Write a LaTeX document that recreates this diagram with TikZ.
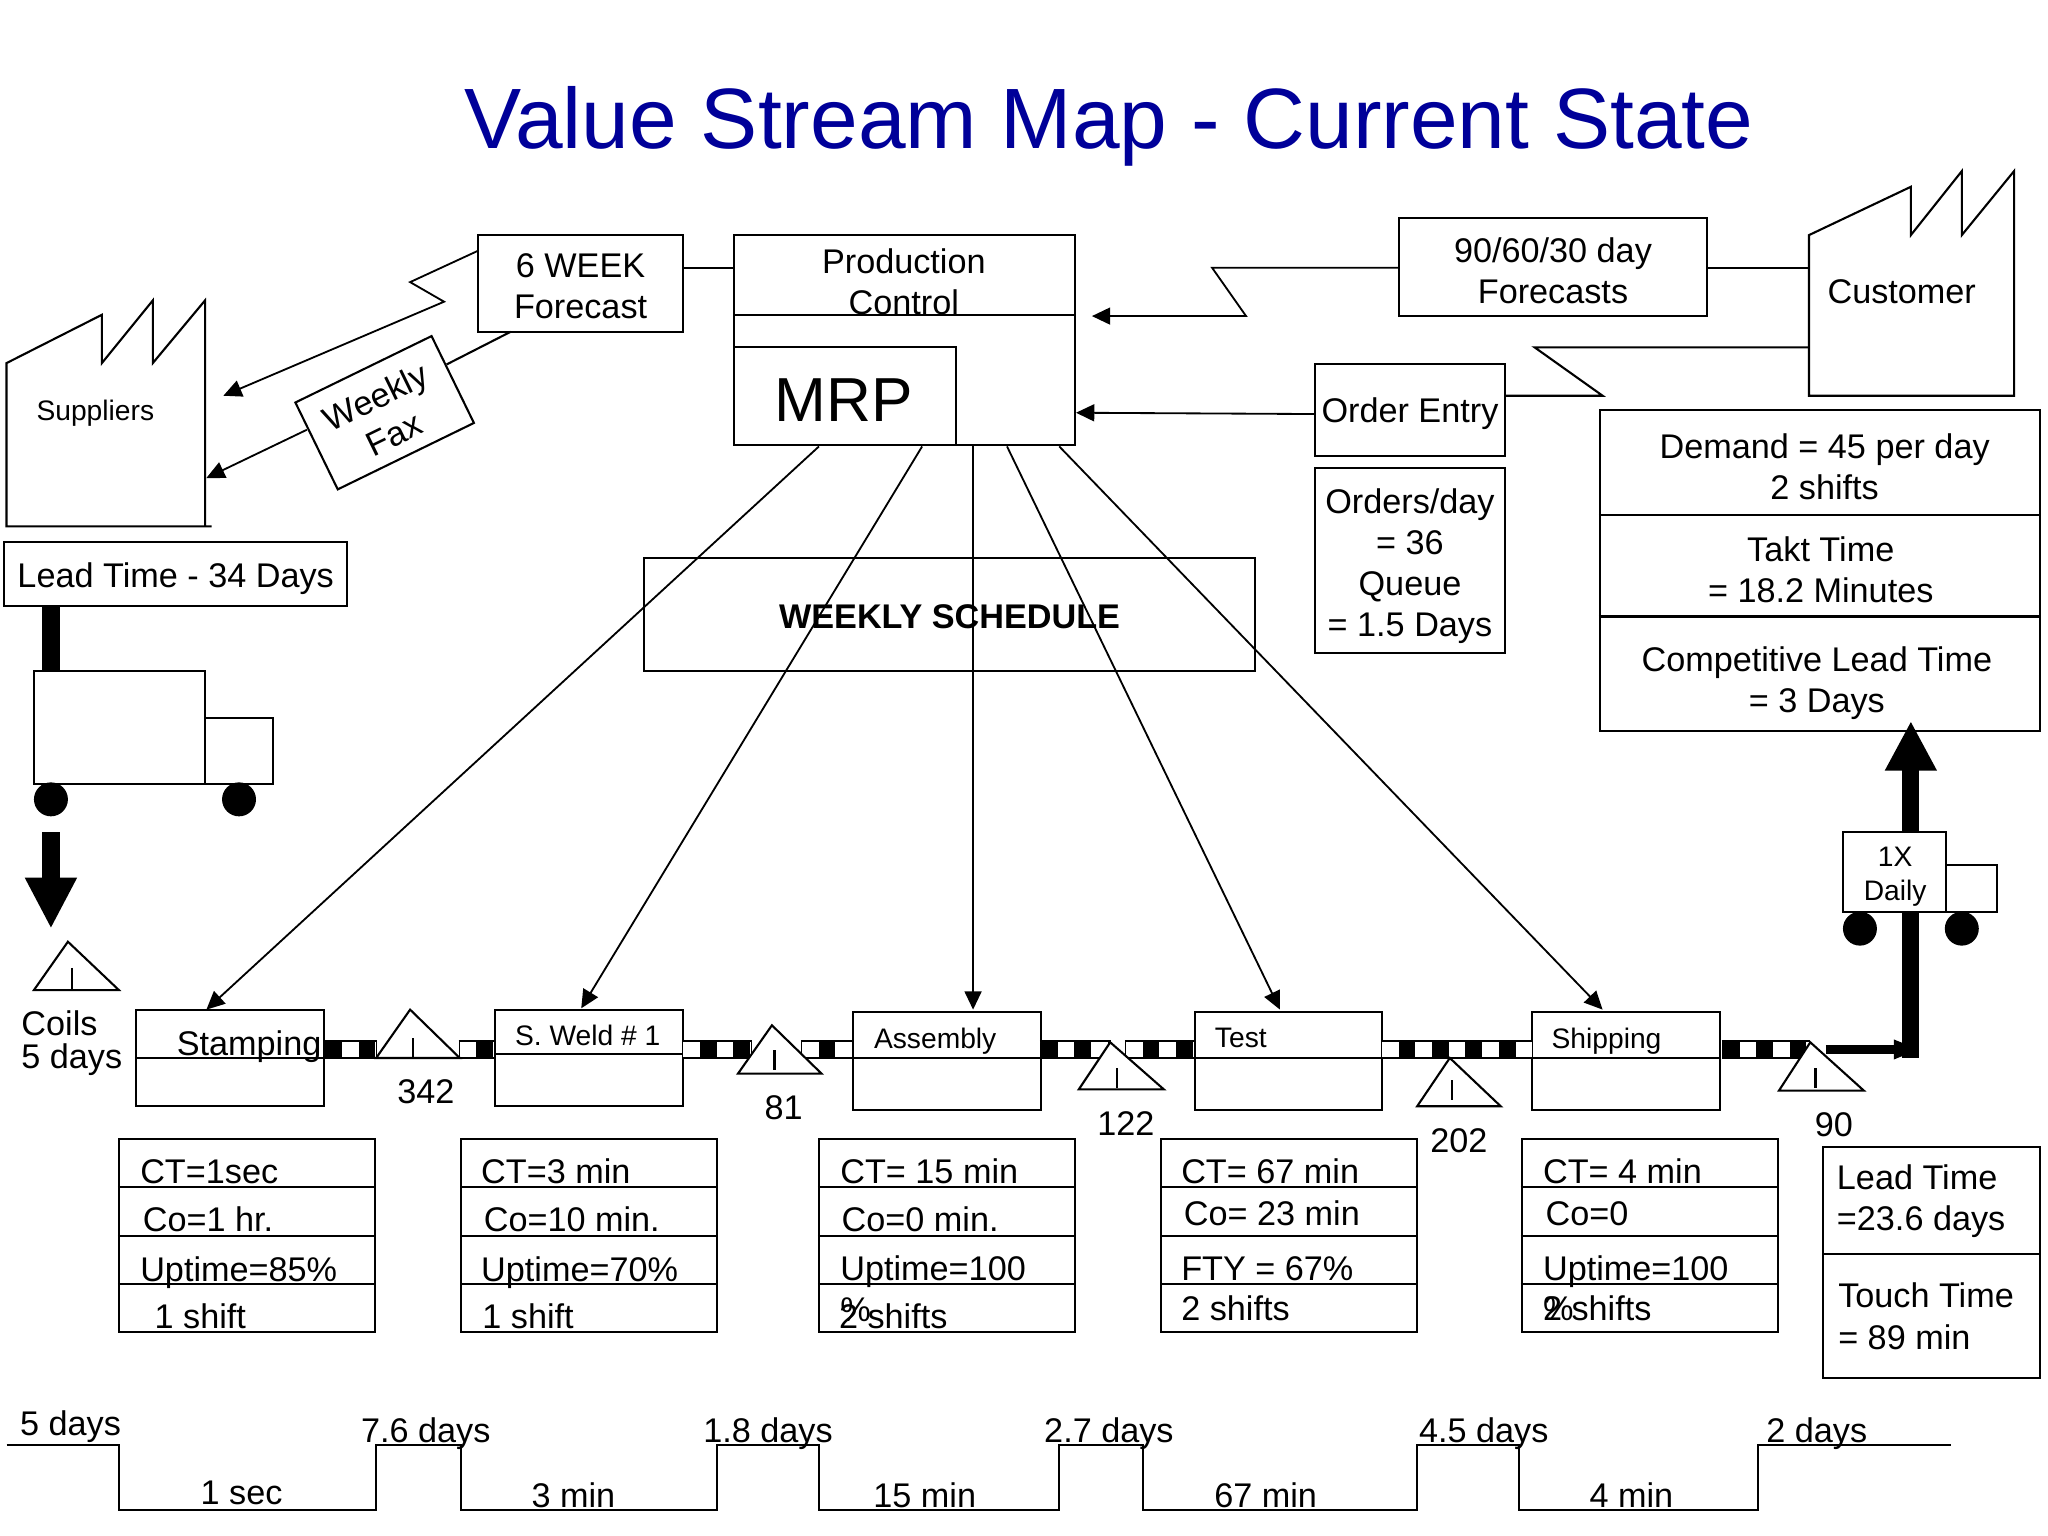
\documentclass[tikz,border=0pt]{standalone}
\usepackage{fontspec}
\setmainfont{Liberation Sans}
\usetikzlibrary{arrows.meta,shapes.geometric}
\definecolor{titleblue}{RGB}{0,0,153}

\tikzset{
  x=.5pt,y=-.5pt,
  every node/.style={font=\fontsize{13.1}{15.7}\selectfont,inner sep=0pt,align=center},
  box/.style={rectangle,draw,line width=.8pt,fill=white},
  clearbox/.style={rectangle,draw,line width=.8pt},
  rule/.style={line width=.8pt},
  small/.style={font=\fontsize{10.8}{13}\selectfont},
  row/.style={anchor=base west},
  info/.style={line width=.7pt,-{Triangle[length=7pt,width=6.5pt]}},
  ship/.style={line width=7pt},
  wheel/.style={circle,fill=black,minimum size=13pt},
  stock/.style={draw,line width=.8pt,fill=white,line join=miter},
  pushline/.style={line width=6.5pt,dash pattern=on 6.4pt off 6.4pt,
    preaction={draw=black,solid,line width=7.3pt,shorten <=-.4pt,shorten >=-.4pt},
    preaction={draw=white,solid,line width=5.7pt}},
  whitefirst/.style={dash phase=6.4pt}
}

\begin{document}
\begin{tikzpicture}
\useasboundingbox (0,0) rectangle (1568,1176);

\node[font=\fontsize{32.8}{38}\selectfont,text=titleblue] (title) at (849,97)
  {Value Stream Map - Current State};

% supplier side
\draw[rule] (5,278) -- (78,241) -- (78,278) -- (117,230) -- (117,278) -- (157,230)
  -- (157,403) -- (5,403) -- cycle (157,403) -- (162,403);
\node[small] (suppliers) at (73,316) {Suppliers};
\coordinate (supTop) at (171,303);
\coordinate (supLow) at (158,366);

\node[box,minimum width=78.5pt,minimum height=37pt] (sixweek) at (444.5,217) {};
\node (sixweektxt) at (444.5,219) {6 WEEK\\Forecast};
\node[box,rotate=26,minimum width=58pt,minimum height=37pt] (fax) at (294.5,316) {};
\node[rotate=26] (faxtxt) at (294.5,318) {Weekly\\Fax};
\node[box,minimum width=131.5pt,minimum height=24.5pt] (leadbox) at (134.5,439.5) {};
\node (leadtxt) at (134.5,443) {Lead Time - 34 Days};

\coordinate (faxA) at (391,254);
\coordinate (faxB) at (342,279);
\coordinate (faxC) at (235,329);
\draw[info] (366,192) -- (314,216) -- (340,231) -- (supTop);
\draw[rule] (faxA) -- (faxB);
\draw[info] (faxC) -- (supLow);

% production control
\node[clearbox,minimum width=130.5pt,minimum height=80.5pt] (control) at (692.5,260.5) {};
\node (controltxt) at (692,216) {Production\\Control};
\draw[rule] (562,241) -- (823,241);
\node[box,minimum width=85pt,minimum height=37.5pt] (mrp) at (647,303.5) {};
\node[font=\fontsize{23.8}{28}\selectfont] (mrptxt) at (646,306) {MRP};
\draw[rule] (sixweek.east |- 0,205) -- (control.west |- 0,205);

% customer side
\draw[rule] (1385,180) -- (1463,143) -- (1463,180) -- (1502,131) -- (1502,180)
  -- (1542,131) -- (1542,303) -- (1385,303) -- cycle;
\node (customer) at (1456,223) {Customer};
\node[box,minimum width=118pt,minimum height=37.5pt] (forecast) at (1189,204.5) {};
\node (forecasttxt) at (1189,207) {90/60/30 day\\Forecasts};
\node[box,minimum width=72.5pt,minimum height=35pt] (order) at (1079.5,314) {};
\node (ordertxt) at (1079.5,317) {Order Entry};
\node[box,minimum width=72.5pt,minimum height=71pt] (orders) at (1079.5,429) {};
\node (orderstxt) at (1079.5,433.5) {Orders/day\\= 36\\Queue\\= 1.5 Days};
\coordinate (custA) at (1385,205);
\coordinate (custB) at (1385,266);
\draw[rule] (forecast.east |- custA) -- (custA);
\draw[info] (forecast.west |- custA) -- (928,205) -- (954,242) -- (836,242);
\draw[info] (order.west |- 0,317) -- (control.east |- 0,316);
\draw[rule] (custB) -- (1175,266) -- (1227,303) -- (order.east |- 0,303);

% takt box
\node[clearbox,minimum width=168.5pt,minimum height=123pt] (takt) at (1393.5,437) {};
\draw[rule] (takt.west |- 0,394) -- (takt.east |- 0,394);
\draw[rule] (takt.west |- 0,472) -- (takt.east |- 0,472);
\node (demand) at (1397,357) {Demand = 45 per day\\2 shifts};
\node (takttime) at (1394,436) {Takt Time\\= 18.2 Minutes};
\node (complead) at (1391,523) {Competitive Lead Time\\= 3 Days};

\node[clearbox,minimum width=234pt,minimum height=43.5pt] (schedule) at (727,470.5) {};
\node[font=\bfseries\fontsize{13.1}{15.7}\selectfont] (scheduletxt) at (727,472) {WEEKLY SCHEDULE};

% incoming truck
\draw[ship] (leadbox.south -| 39,0) -- (39,514);
\node[box,minimum width=65.5pt,minimum height=43pt] (truck) at (91.5,557) {};
\node[box,minimum width=26pt,minimum height=25pt] (cab) at (183,575) {};
\node[wheel] (wheelA) at (39,612) {};
\node[wheel] (wheelB) at (183,612) {};
\coordinate (coilA) at (39,637);
\coordinate (coilB) at (39,711);
\draw[ship,-{Triangle[length=19.5pt,width=18.5pt]}] (coilA) -- (coilB);
\draw[stock] (26,758) -- (52,721) -- (91,758) -- cycle;
\draw[rule] (55,741) -- (55,758);
\node[anchor=west,align=left,font=\fontsize{13.1}{12.6}\selectfont] (coils) at (16,799) {Coils\\5 days};

% process boxes
\node[box,minimum width=72pt,minimum height=37pt] (stamp) at (176,810) {};
\node[box,minimum width=72pt,minimum height=37pt] (weld) at (451,810) {};
\node[box,minimum width=72pt,minimum height=37.5pt] (assembly) at (725,812.5) {};
\node[box,minimum width=71.5pt,minimum height=37.5pt] (test) at (986.5,812.5) {};
\node[box,minimum width=72pt,minimum height=37.5pt] (shipping) at (1245,812.5) {};
\draw[rule] (stamp.west) -- (stamp.east);
\draw[rule] (weld.west |- 0,807) -- (weld.east |- 0,807);
\draw[rule] (assembly.west |- 0,810) -- (assembly.east |- 0,810);
\draw[rule] (test.west |- 0,810) -- (test.east |- 0,810);
\draw[rule] (shipping.west |- 0,810) -- (shipping.east |- 0,810);
\node[anchor=west] (stamptxt) at (135,801) {Stamping};
\node[small] (weldtxt) at (450,793) {S. Weld \# 1};
\node[small] (assemblytxt) at (716,797) {Assembly};
\node[small] (testtxt) at (950,795) {Test};
\node[small] (shippingtxt) at (1230,797) {Shipping};

% schedule arrows
\draw[info] (control.south -| 627,0) -- (158,773);
\draw[info] (control.south -| 706,0) -- (445,772);
\draw[info] (control.south -| 745,0) -- (745,773);
\draw[info] (control.south -| 771,0) -- (980,773);
\draw[info] (control.south -| 811,0) -- (1227,773);

% push arrows
\coordinate (barAa) at (249,803.5);
\coordinate (barAb) at (288,803.5);
\coordinate (barBa) at (352,803.5);
\coordinate (barBb) at (378,803.5);
\coordinate (barCa) at (523,803.5);
\coordinate (barCb) at (575,803.5);
\coordinate (barDa) at (614,803.5);
\coordinate (barDb) at (653,803.5);
\coordinate (barEa) at (797,803.5);
\coordinate (barEb) at (850,803.5);
\coordinate (barFa) at (862,803.5);
\coordinate (barFb) at (914,803.5);
\coordinate (barGa) at (1058,803.5);
\coordinate (barGb) at (1173,803.5);
\coordinate (barHa) at (1319,803.5);
\coordinate (barHb) at (1385,803.5);
\draw[pushline] (barAa) -- (barAb);
\draw[pushline,whitefirst] (barBa) -- (barBb);
\draw[pushline,whitefirst] (barCa) -- (barCb);
\draw[pushline,whitefirst] (barDa) -- (barDb);
\draw[pushline] (barEa) -- (barEb);
\draw[pushline,whitefirst] (barFa) -- (barFb);
\draw[pushline,whitefirst] (barGa) -- (barGb);
\draw[pushline] (barHa) -- (barHb);

% inventory triangles
\draw[stock] (288,810) -- (314,773) -- (352,810) -- cycle;
\draw[stock] (565,822) -- (591,785) -- (629,822) -- cycle;
\draw[stock] (826,834) -- (850,798) -- (891,834) -- cycle;
\draw[stock] (1085,847) -- (1110,810) -- (1149,847) -- cycle;
\draw[stock] (1362,835) -- (1386,798) -- (1427,835) -- cycle;
\draw[rule] (316,795) -- (316,810);
\draw[rule] (593,804) -- (593,819);
\draw[rule] (855,818) -- (855,833);
\draw[rule] (1112,827) -- (1112,842);
\draw[rule] (1390,818) -- (1390,833);
\node (qtyA) at (326,836) {342};
\node (qtyB) at (600,848) {81};
\node (qtyC) at (862,860) {122};
\node (qtyD) at (1117,873) {202};
\node (qtyE) at (1404,861) {90};

% outgoing truck
\coordinate (dockA) at (1398,803.5);
\coordinate (dockB) at (1470,803.5);
\coordinate (dockC) at (1463,810);
\coordinate (dockD) at (1463,552);
\draw[line width=6.5pt,-{Triangle[length=19pt,width=18.5pt]}] (dockC) -- (dockD);
\draw[line width=3.8pt,-{Triangle[length=10pt,width=6.8pt]}] (dockA) -- (dockB);
\node[box,minimum width=39.5pt,minimum height=30.5pt] (truckB) at (1450.5,667.5) {};
\node[small] (truckBtxt) at (1451,671) {1X\\Daily};
\node[box,minimum width=19.5pt,minimum height=18pt] (cabB) at (1509.5,680) {};
\node[wheel] (wheelC) at (1424,711) {};
\node[wheel] (wheelD) at (1502,711) {};

% data boxes
\node[clearbox,minimum width=98pt,minimum height=74pt] (dataA) at (189,946) {};
\draw[rule] (dataA.west |- 0,909) -- (dataA.east |- 0,909);
\draw[rule] (dataA.west) -- (dataA.east);
\draw[rule] (dataA.west |- 0,983) -- (dataA.east |- 0,983);
\node[row] (ctA) at (107,906) {CT=1sec};
\node[row] (coA) at (109,943) {Co=1 hr.};
\node[row] (upA) at (107,981) {Uptime=85\%};
\node[row] (shA) at (118,1017) {1 shift};

\node[clearbox,minimum width=98pt,minimum height=74pt] (dataB) at (451,946) {};
\draw[rule] (dataB.west |- 0,909) -- (dataB.east |- 0,909);
\draw[rule] (dataB.west) -- (dataB.east);
\draw[rule] (dataB.west |- 0,983) -- (dataB.east |- 0,983);
\node[row] (ctB) at (368,906) {CT=3 min};
\node[row] (coB) at (370,943) {Co=10 min.};
\node[row] (upB) at (368,981) {Uptime=70\%};
\node[row] (shB) at (369,1017) {1 shift};

\node[clearbox,minimum width=98pt,minimum height=74pt] (dataC) at (725,946) {};
\draw[rule] (dataC.west |- 0,909) -- (dataC.east |- 0,909);
\draw[rule] (dataC.west) -- (dataC.east);
\draw[rule] (dataC.west |- 0,983) -- (dataC.east |- 0,983);
\node[row] (ctC) at (643,906) {CT= 15 min};
\node[row] (coC) at (644,943) {Co=0 min.};
\node[row] (upC) at (643,980) {Uptime=100};
\node[row] (pcC) at (643,1012) {\%};
\node[row] (shC) at (642,1017) {2 shifts};

\node[clearbox,minimum width=98pt,minimum height=74pt] (dataD) at (987,946) {};
\draw[rule] (dataD.west |- 0,909) -- (dataD.east |- 0,909);
\draw[rule] (dataD.west) -- (dataD.east);
\draw[rule] (dataD.west |- 0,983) -- (dataD.east |- 0,983);
\node[row] (ctD) at (904,906) {CT= 67 min};
\node[row] (coD) at (906,938) {Co= 23 min};
\node[row] (upD) at (904,980) {FTY = 67\%};
\node[row] (shD) at (904,1011) {2 shifts};

\node[clearbox,minimum width=98pt,minimum height=74pt] (dataE) at (1263,946) {};
\draw[rule] (dataE.west |- 0,909) -- (dataE.east |- 0,909);
\draw[rule] (dataE.west) -- (dataE.east);
\draw[rule] (dataE.west |- 0,983) -- (dataE.east |- 0,983);
\node[row] (ctE) at (1181,906) {CT= 4 min};
\node[row] (coE) at (1183,938) {Co=0};
\node[row] (upE) at (1181,980) {Uptime=100};
\node[row] (pcE) at (1181,1011) {\%};
\node[row] (shE) at (1181,1011) {2 shifts};

\node[clearbox,minimum width=83pt,minimum height=88.5pt] (total) at (1479,966.5) {};
\draw[rule] (total.west |- 0,960) -- (total.east |- 0,960);
\node[row] (leadA) at (1406,911) {Lead Time};
\node[row] (leadB) at (1406,942) {=23.6 days};
\node[row] (touchA) at (1407,1001) {Touch Time};
\node[row] (touchB) at (1407,1033) {= 89 min};

% timeline
\draw[rule] (5,1106) -- (91,1106) -- (91,1156) -- (288,1156) -- (288,1106) -- (353,1106)
  -- (353,1156) -- (549,1156) -- (549,1106) -- (627,1106) -- (627,1156) -- (811,1156)
  -- (811,1106) -- (875,1106) -- (875,1156) -- (1085,1156) -- (1085,1106) -- (1163,1106)
  -- (1163,1156) -- (1346,1156) -- (1346,1106) -- (1494,1106);
\node (waitA) at (54,1092) {5 days};
\node (waitB) at (326,1098) {7.6 days};
\node (waitC) at (588,1098) {1.8 days};
\node (waitD) at (849,1098) {2.7 days};
\node (waitE) at (1136,1098) {4.5 days};
\node (waitF) at (1391,1098) {2 days};
\node (workA) at (185,1143) {1 sec};
\node (workB) at (439,1145) {3 min};
\node (workC) at (708,1145) {15 min};
\node (workD) at (969,1145) {67 min};
\node (workE) at (1249,1145) {4 min};
\end{tikzpicture}
\end{document}
